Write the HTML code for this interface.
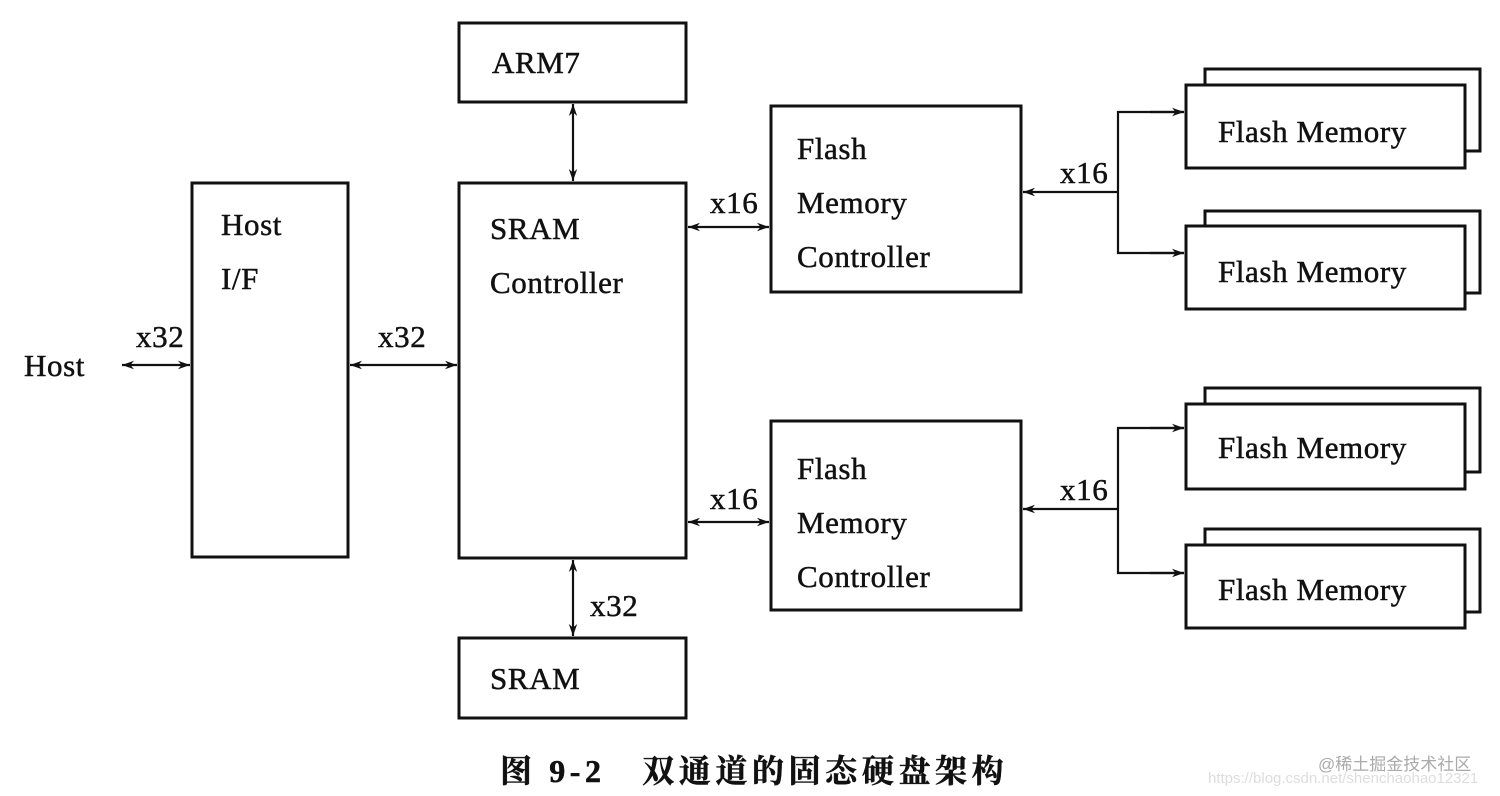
<!DOCTYPE html>
<html><head><meta charset="utf-8"><style>
html,body{margin:0;padding:0;background:#fff;}
svg{display:block;}
text{font-family:"Liberation Serif","Noto Serif CJK SC",serif;fill:#111;stroke:#111;stroke-width:0.5;}
</style></head><body>
<svg width="1500" height="796" viewBox="0 0 1500 796" xmlns="http://www.w3.org/2000/svg">
<defs>
<marker id="a" viewBox="0 0 10 10" refX="10" refY="5" markerWidth="18" markerHeight="12" orient="auto-start-reverse" markerUnits="userSpaceOnUse"><path d="M0,1.5 L10,5 L0,8.5 L3,5 z" fill="#111"/></marker>
</defs>
<g fill="#fff" stroke="#111" stroke-width="3">
<rect x="459" y="23" width="227" height="79"/>
<rect x="192" y="183" width="156" height="374"/>
<rect x="459" y="183" width="227" height="375"/>
<rect x="459" y="638" width="227" height="80"/>
<rect x="771" y="106" width="250" height="186"/>
<rect x="771" y="421" width="250" height="189"/>
<rect x="1205" y="69" width="275" height="82"/><rect x="1186" y="85" width="279" height="83"/>
<rect x="1205" y="211" width="275" height="82"/><rect x="1186" y="226" width="279" height="83"/>
<rect x="1205" y="388" width="275" height="84"/><rect x="1186" y="404" width="279" height="85"/>
<rect x="1205" y="529" width="275" height="83"/><rect x="1186" y="545" width="279" height="83"/>
</g>
<g stroke="#111" stroke-width="2.2" fill="none">
<line x1="573" y1="104" x2="573" y2="181" marker-start="url(#a)" marker-end="url(#a)"/>
<line x1="573" y1="560" x2="573" y2="636" marker-start="url(#a)" marker-end="url(#a)"/>
<line x1="122" y1="365" x2="190" y2="365" marker-start="url(#a)" marker-end="url(#a)"/>
<line x1="350" y1="365" x2="457" y2="365" marker-start="url(#a)" marker-end="url(#a)"/>
<line x1="688" y1="227" x2="769" y2="227" marker-start="url(#a)" marker-end="url(#a)"/>
<line x1="688" y1="522" x2="769" y2="522" marker-start="url(#a)" marker-end="url(#a)"/>
<line x1="1118" y1="192" x2="1023" y2="192" marker-end="url(#a)"/>
<polyline points="1184,112 1118,112 1118,253 1184,253"/>
<line x1="1150" y1="112" x2="1184" y2="112" marker-end="url(#a)"/>
<line x1="1150" y1="253" x2="1184" y2="253" marker-end="url(#a)"/>
<line x1="1118" y1="509" x2="1023" y2="509" marker-end="url(#a)"/>
<polyline points="1184,428 1118,428 1118,573 1184,573"/>
<line x1="1150" y1="428" x2="1184" y2="428" marker-end="url(#a)"/>
<line x1="1150" y1="573" x2="1184" y2="573" marker-end="url(#a)"/>
</g>
<g font-size="31" letter-spacing="0.6">
<text x="492" y="73">ARM7</text>
<text x="221" y="235">Host</text>
<text x="221" y="289">I/F</text>
<text x="490" y="239">SRAM</text>
<text x="490" y="293">Controller</text>
<text x="490" y="689">SRAM</text>
<text x="797" y="159">Flash</text>
<text x="797" y="213">Memory</text>
<text x="797" y="267">Controller</text>
<text x="797" y="479">Flash</text>
<text x="797" y="533">Memory</text>
<text x="797" y="587">Controller</text>
<text x="1218" y="142">Flash Memory</text>
<text x="1218" y="282">Flash Memory</text>
<text x="1218" y="458">Flash Memory</text>
<text x="1218" y="600">Flash Memory</text>
<text x="24" y="376">Host</text>
<text x="136" y="347">x32</text>
<text x="378" y="347">x32</text>
<text x="710" y="213">x16</text>
<text x="710" y="509">x16</text>
<text x="1060" y="183">x16</text>
<text x="1060" y="500">x16</text>
<text x="590" y="616">x32</text>
</g>
<text x="500" y="782" font-size="32" font-weight="bold" letter-spacing="4.6">图 9-2　双通道的固态硬盘架构</text>
<text x="1318" y="770" font-size="17" style="fill:#aaa;stroke:none;font-family:'Liberation Sans','Noto Sans CJK SC',sans-serif">@稀土掘金技术社区</text>
<text x="1208" y="783" font-size="15" style="fill:#ddd;stroke:none;font-family:'Liberation Sans',sans-serif">https://blog.csdn.net/shenchaohao12321</text>
</svg>
</body></html>
